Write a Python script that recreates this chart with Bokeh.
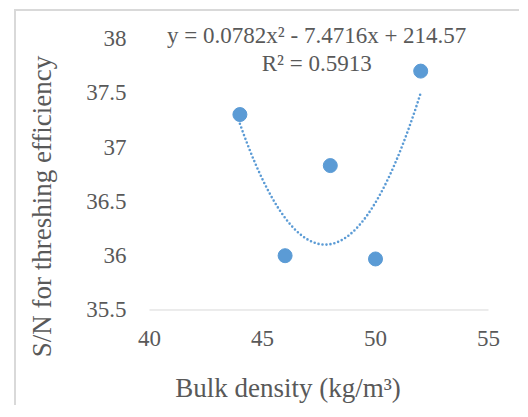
import numpy as np
from bokeh.plotting import figure
from bokeh.models import Range1d
from bokeh.core.properties import value
from bokeh.embed import file_html
from bokeh.resources import INLINE

# data
bulk_density = [44, 46, 48, 50, 52]
sn_threshing = [37.30, 36.00, 36.83, 35.97, 37.70]
# quadratic trendline coefficients shown on the chart (a, b, c)
trend_coef = [0.0782, -7.4716, 214.57]
x_ticks = [40, 45, 50, 55]
x_tick_labels = ["40", "45", "50", "55"]
y_ticks = [35.5, 36, 36.5, 37, 37.5, 38]
y_tick_labels = ["35.5", "36", "36.5", "37", "37.5", "38"]
eq_text = "y = 0.0782x\u00b2 - 7.4716x + 214.57"
r2_text = "R\u00b2 = 0.5913"
x_title = "Bulk density (kg/m\u00b3)"
y_title = "S/N for threshing efficiency"

FONT = value("Liberation Serif")
GRAY = "#595959"
BLUE = "#5B9BD5"

# the frame covers the whole canvas; ranges are set so that the value axes
# (40..55, 35.5..38) fall where the reference draws them
p = figure(width=505, height=396, output_backend="svg", toolbar_location=None,
           title=None, x_axis_location=None, y_axis_location=None,
           x_range=Range1d(34.115, 56.46), y_range=Range1d(34.602, 38.249),
           min_border=0)
p.margin = (9, 0, 0, 14)
p.styles = {"border-left": "2px solid #d9d9d9", "border-top": "2px solid #d9d9d9"}
p.outline_line_color = None
p.background_fill_color = "white"
p.border_fill_color = "white"
p.xgrid.visible = False
p.ygrid.visible = False

x0, x1 = min(x_ticks), max(x_ticks)
y0 = min(y_ticks)

# horizontal axis line
p.segment(x0=[x0], y0=[y0], x1=[x1], y1=[y0], line_color="#d9d9d9", line_width=1)

# tick labels
p.text(x=x_ticks, y=[y0] * len(x_ticks), text=x_tick_labels, y_offset=29,
       text_font=FONT, text_font_size="23px", text_color=GRAY,
       text_align="center", text_baseline="middle")
p.text(x=[x0] * len(y_ticks), y=y_ticks, text=y_tick_labels, x_offset=-23,
       text_font=FONT, text_font_size="23px", text_color=GRAY,
       text_align="right", text_baseline="middle")

# axis titles
p.text(x=[46.13], y=[34.777], text=[x_title], text_font=FONT, text_font_size="27px",
       text_color=GRAY, text_align="center", text_baseline="middle")
p.text(x=[35.265], y=[36.453], text=[y_title], angle=np.pi / 2, text_font=FONT,
       text_font_size="27px", text_color=GRAY, text_align="center",
       text_baseline="middle")

# trendline evaluated from the displayed coefficients
xt = np.linspace(min(bulk_density), max(bulk_density), 200)
yt = np.polyval(trend_coef, xt)
p.line(xt, yt, line_color=BLUE, line_width=2.6, line_dash="0 4", line_cap="round")

p.scatter(bulk_density, sn_threshing, size=14, fill_color=BLUE, line_color=BLUE)

# trendline equation
p.text(x=[47.4, 47.4], y=[38.03, 37.77], text=[eq_text, r2_text], text_font=FONT,
       text_font_size="23px", text_color=GRAY, text_align="center",
       text_baseline="middle")

open("out.html", "w").write(file_html(p, INLINE))
